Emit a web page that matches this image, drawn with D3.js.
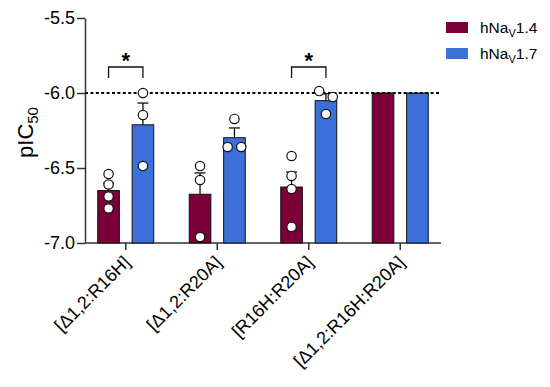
<!DOCTYPE html>
<html>
<head>
<meta charset="utf-8">
<script src="https://cdn.jsdelivr.net/npm/d3@7"></script>
<style>
  body { margin: 0; background: #fff; }
  svg { font-family: "Liberation Sans", Arial, sans-serif; }
</style>
</head>
<body>
<script>
const width = 550
const height = 387
const margin = ({top: 18, right: 108, bottom: 144, left: 85})

// data
const groups = ["[Δ1,2:R16H]", "[Δ1,2:R20A]", "[R16H:R20A]", "[Δ1,2:R16H:R20A]"]
const series = ["hNaV1.4", "hNaV1.7"]
const colors = ["#7b0039", "#3a70d8"]
const means14 = [-6.65, -6.675, -6.627, -6.0]
const means17 = [-6.212, -6.298, -6.051, -6.0]
const sem14 = [0.05, 0.142, 0.10, 0]
const sem17 = [0.145, 0.065, 0.046, 0]
// individual points: [value, jitter slot]
const points14 = [
  [[-6.54, 0], [-6.61, 0], [-6.69, 0], [-6.77, 0]],
  [[-6.487, 0], [-6.58, 0], [-6.96, 0]],
  [[-6.42, 0], [-6.553, 0], [-6.64, 0], [-6.893, 0]],
  []
]
const points17 = [
  [[-6.0, 0], [-6.147, 0], [-6.487, 0]],
  [[-6.173, 0], [-6.36, -1], [-6.36, 1]],
  [[-5.987, -1], [-6.027, 1], [-6.14, 0]],
  []
]
const yTicks = [-7.0, -6.5, -6.0, -5.5]
const threshold = -6.0
const significant = [0, 2]

const svg = d3.select("body").append("svg").attr("width", width).attr("height", height)

const y = d3.scaleLinear()
    .domain([-7.0, -5.5])
    .range([height - margin.bottom, margin.top])

const x = d3.scaleBand()
    .domain(groups)
    .range([80, 446])

const x1 = d3.scaleBand()
    .domain(series)
    .range([-17 - 11, 17 + 11])
    .paddingInner(13 / 35)

const ink = "#333"

// y axis
const yAxis = svg.append("g")
    .attr("transform", `translate(${margin.left},0)`)
    .call(d3.axisLeft(y).tickValues(yTicks).tickSize(8).tickSizeOuter(0))
yAxis.select(".domain").attr("stroke", ink).attr("stroke-width", 1.5)
yAxis.selectAll(".tick line").attr("stroke", ink).attr("stroke-width", 1.5)
yAxis.selectAll(".tick text").attr("font-size", 18).attr("fill", "#000").attr("x", -10)
    .text(d => d3.format(".1f")(d).replace("−", "-"))

// x axis
const xAxis = svg.append("g")
    .attr("transform", `translate(0,${y(-7.0)})`)
    .call(d3.axisBottom(x).tickSize(7).tickSizeOuter(0).tickFormat(""))
xAxis.select(".domain").attr("d", `M${margin.left},0H441`).attr("stroke", ink).attr("stroke-width", 1.5)
xAxis.selectAll(".tick line").attr("stroke", ink).attr("stroke-width", 1.5)

svg.append("g")
  .selectAll("text")
  .data(groups)
  .join("text")
    .attr("transform", d => `translate(${x(d) + x.bandwidth() / 2 + 1},${y(-7.0) + 16}) rotate(-45)`)
    .attr("text-anchor", "end")
    .attr("dy", "0.35em")
    .attr("font-size", 18)
    .text(d => d)

// y label
const yl = svg.append("text")
    .attr("transform", `translate(33,${(y(-5.5) + y(-7.0)) / 2 + 2}) rotate(-90)`)
    .attr("text-anchor", "middle")
    .attr("font-size", 22)
yl.append("tspan").text("pIC")
yl.append("tspan").attr("font-size", 15).attr("dy", 5).text("50")

// bars
const barData = groups.flatMap((g, i) => [
  {g, s: series[0], c: colors[0], v: means14[i], e: sem14[i], pts: points14[i]},
  {g, s: series[1], c: colors[1], v: means17[i], e: sem17[i], pts: points17[i]}
])
const cx = d => x(d.g) + x.bandwidth() / 2 + x1(d.s) + x1.bandwidth() / 2

svg.append("g")
  .selectAll("rect")
  .data(barData)
  .join("rect")
    .attr("x", d => x(d.g) + x.bandwidth() / 2 + x1(d.s))
    .attr("width", x1.bandwidth())
    .attr("y", d => y(d.v))
    .attr("height", d => y(-7.0) - y(d.v))
    .attr("fill", d => d.c)
    .attr("stroke", "#111")
    .attr("stroke-width", 1)

// error bars
const eb = svg.append("g").attr("stroke", "#111").attr("stroke-width", 1.3)
  .selectAll("g")
  .data(barData.filter(d => d.e > 0))
  .join("g")
eb.append("line")
    .attr("x1", cx).attr("x2", cx)
    .attr("y1", d => y(d.v)).attr("y2", d => y(d.v + d.e))
eb.append("line")
    .attr("x1", d => cx(d) - 5.5).attr("x2", d => cx(d) + 5.5)
    .attr("y1", d => y(d.v + d.e)).attr("y2", d => y(d.v + d.e))

// threshold line
svg.append("line")
    .attr("x1", margin.left).attr("x2", 441)
    .attr("y1", y(threshold)).attr("y2", y(threshold))
    .attr("stroke", "#000")
    .attr("stroke-width", 2)
    .attr("stroke-dasharray", "3,2.4")

// points
svg.append("g")
  .selectAll("circle")
  .data(barData.flatMap(d => d.pts.map(p => ({d, v: p[0], j: p[1]}))))
  .join("circle")
    .attr("cx", p => cx(p.d) + p.j * 6.8)
    .attr("cy", p => y(p.v))
    .attr("r", 4.7)
    .attr("fill", "#fff")
    .attr("stroke", "#111")
    .attr("stroke-width", 1.2)

// significance brackets
const br = svg.append("g")
  .selectAll("g")
  .data(significant)
  .join("g")
br.append("path")
    .attr("d", i => {
      const a = x(groups[i]) + x.bandwidth() / 2 + x1(series[0]) + x1.bandwidth() / 2
      const b = x(groups[i]) + x.bandwidth() / 2 + x1(series[1]) + x1.bandwidth() / 2
      return `M${a},78V67H${b}V78`
    })
    .attr("fill", "none")
    .attr("stroke", "#111")
    .attr("stroke-width", 1.3)
br.append("text")
    .attr("x", i => x(groups[i]) + x.bandwidth() / 2)
    .attr("y", 68)
    .attr("text-anchor", "middle")
    .attr("font-size", 22)
    .attr("font-weight", "bold")
    .text("*")

// legend
const lg = svg.append("g")
  .selectAll("g")
  .data(series)
  .join("g")
    .attr("transform", (d, i) => `translate(446,${22 + i * 26})`)
lg.append("rect")
    .attr("width", 22).attr("height", 11)
    .attr("fill", (d, i) => colors[i])
const lt = lg.append("text")
    .attr("x", 34).attr("y", 11)
    .attr("font-size", 15.5)
lt.append("tspan").text("hNa")
lt.append("tspan").attr("font-size", 11).attr("dy", 4).text("V")
lt.append("tspan").attr("dy", -4).text(d => d.slice(4))
</script>
</body>
</html>
